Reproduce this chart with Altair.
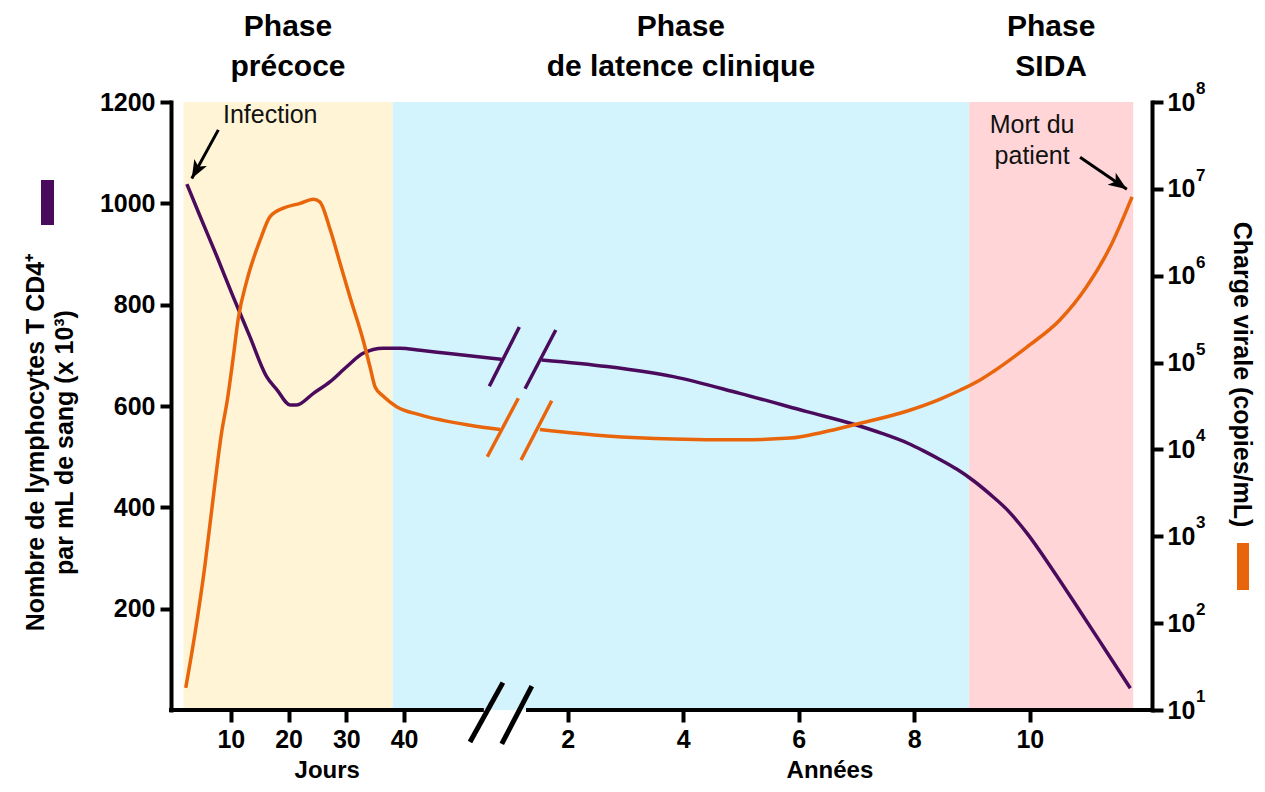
import altair as alt
import pandas as pd

FONT = "Liberation Sans"
PURPLE = "#4b0b5d"
ORANGE = "#e9650c"
YELLOW = "#fff5d6"
BLUE = "#d4f4fd"
PINK = "#ffd5d8"

# unified horizontal position: days as-is, years placed after the axis break
YEAR0 = 48.3
PER_YEAR = 10.0


def pos(seg, t):
    return t if seg == "j" else YEAR0 + PER_YEAR * t


# ---- CD4+ T lymphocytes (x 10^3 / mL) ----
CD4_DAYS = [2.4, 4.7, 7.6, 10.4, 13.3, 16.2, 18.0, 20.3, 21.4, 24.3, 27.2, 30.1, 32.9, 36.4, 39.3, 42.8, 47.4, 56.9]
CD4_EARLY = [1038, 974, 895, 816, 737, 658, 632, 602, 602, 625, 648, 678, 704, 714, 714, 710, 704, 692]
CD4_YEARS = [1.55, 2.68, 3.83, 4.98, 6.14, 7.01, 7.44, 7.88, 8.17, 8.45, 8.74, 9.02, 9.31, 9.61, 9.95,
             10.40, 10.87, 11.30, 11.74]
CD4_LATE = [691, 678, 658, 625, 589, 562, 546, 527, 511, 494, 475, 453, 426, 395, 349,
            276, 195, 120, 43]

# ---- viral load (copies/mL) ----
VL_DAYS = [2.2, 3.8, 5.5, 6.9, 8.4, 9.4, 10.4, 11.3, 12.8, 15.1, 16.8, 19.1, 22.0, 24.3, 25.4,
           27.2, 28.9, 30.6, 32.9, 34.1, 35.0, 36.4, 38.7, 42.8, 51.4, 56.6]
VL_EARLY = [18, 76, 450, 2600, 15500, 37000, 112000, 324000, 890000, 2.6e6, 4.8e6, 6.0e6, 6.8e6, 7.6e6, 7.1e6,
            3.4e6, 1.4e6, 5.75e5, 1.82e5, 8.9e4, 5.2e4, 4.1e4, 3.1e4, 2.5e4, 1.9e4, 1.7e4]
VL_YEARS = [1.52, 2.68, 3.83, 4.98, 5.85, 6.42, 7.01, 7.88, 8.45, 8.79, 9.14, 9.37, 9.95, 10.52, 10.98, 11.39, 11.77]
VL_LATE = [17000, 14300, 13200, 12900, 13500, 15800, 19600, 27700, 38000, 48000, 63000, 79000,
           151000, 309000, 741000, 2.14e6, 8.1e6]

# ---- phases ----
PHASE_LABELS = ["Phase\nprécoce", "Phase\nde latence clinique", "Phase\nSIDA"]
PHASE_START = [("j", 1.8), ("j", 38.0), ("a", 8.95)]
PHASE_END = [("j", 38.0), ("a", 8.95), ("a", 11.79)]
PHASE_COLORS = [YELLOW, BLUE, PINK]

# ---- axis ticks ----
DAY_TICKS = [10, 20, 30, 40]
YEAR_TICKS = [2, 4, 6, 8, 10]
CD4_TICKS = [200, 400, 600, 800, 1000, 1200]
VL_EXPONENTS = [1, 2, 3, 4, 5, 6, 7, 8]

# ---- axis-break marks (unified position, value) ----
AXIS_SEGMENTS = [(-0.7, 53.8), (61.1, 169.8)]
AXIS_SLASHES = [((51.4, -63), (57.1, 54)), ((56.9, -67), (62.1, 47))]
CD4_SLASHES = [((54.75, 639), (59.94, 756)), ((60.93, 634), (66.25, 750))]
VL_SLASHES = [((54.4, 8240), (59.77, 38800)), ((60.24, 7550), (65.55, 36400))]

# ---- annotations ----
INFECTION_TEXT = ("j", 8.65, 1158)
INFECTION_ARROW = (("j", 7.84, 1145), ("j", 3.24, 1049), 208.9)
DEATH_TEXT = ("a", 10.04, 1138)
DEATH_ARROW = (("a", 10.87, 1091), ("a", 11.68, 1028), 124.2)
X_TITLES = [("Jours", "j", 26.7), ("Années", "a", 6.54)]

# ---------------- data frames ----------------
cd4 = pd.DataFrame({
    "u": [pos("j", d) for d in CD4_DAYS] + [pos("a", y) for y in CD4_YEARS],
    "v": CD4_EARLY + CD4_LATE,
    "part": ["early"] * len(CD4_DAYS) + ["late"] * len(CD4_YEARS),
})
vl = pd.DataFrame({
    "u": [pos("j", d) for d in VL_DAYS] + [pos("a", y) for y in VL_YEARS],
    "c": VL_EARLY + VL_LATE,
    "part": ["early"] * len(VL_DAYS) + ["late"] * len(VL_YEARS),
})
phases = pd.DataFrame({
    "u": [pos(*s) for s in PHASE_START],
    "u2": [pos(*e) for e in PHASE_END],
    "col": PHASE_COLORS,
    "label": PHASE_LABELS,
})
phase_titles = pd.DataFrame({
    "u": [(pos(*s) + pos(*e)) / 2 for s, e in zip(PHASE_START, PHASE_END)],
    "label": PHASE_LABELS,
})
axis_seg = pd.DataFrame({"u": [a for a, b in AXIS_SEGMENTS], "u2": [b for a, b in AXIS_SEGMENTS], "v": [0, 0]})
axis_sl = pd.DataFrame({"u": [p[0][0] for p in AXIS_SLASHES], "v": [p[0][1] for p in AXIS_SLASHES],
                        "u2": [p[1][0] for p in AXIS_SLASHES], "v2": [p[1][1] for p in AXIS_SLASHES]})
cd4_sl = pd.DataFrame({"u": [p[0][0] for p in CD4_SLASHES], "v": [p[0][1] for p in CD4_SLASHES],
                       "u2": [p[1][0] for p in CD4_SLASHES], "v2": [p[1][1] for p in CD4_SLASHES]})
vl_sl = pd.DataFrame({"u": [p[0][0] for p in VL_SLASHES], "c": [p[0][1] for p in VL_SLASHES],
                      "u2": [p[1][0] for p in VL_SLASHES], "c2": [p[1][1] for p in VL_SLASHES]})
arrows = pd.DataFrame({
    "u": [pos(a[0][0], a[0][1]) for a in (INFECTION_ARROW, DEATH_ARROW)],
    "v": [a[0][2] for a in (INFECTION_ARROW, DEATH_ARROW)],
    "u2": [pos(a[1][0], a[1][1]) for a in (INFECTION_ARROW, DEATH_ARROW)],
    "v2": [a[1][2] for a in (INFECTION_ARROW, DEATH_ARROW)],
})
heads = pd.DataFrame({
    "u": [pos(a[1][0], a[1][1]) for a in (INFECTION_ARROW, DEATH_ARROW)],
    "v": [a[1][2] for a in (INFECTION_ARROW, DEATH_ARROW)],
    "ang": [a[2] for a in (INFECTION_ARROW, DEATH_ARROW)],
})
infection = pd.DataFrame({"u": [pos(INFECTION_TEXT[0], INFECTION_TEXT[1])], "v": [INFECTION_TEXT[2]], "t": ["Infection"]})
death = pd.DataFrame({"u": [pos(DEATH_TEXT[0], DEATH_TEXT[1])], "v": [DEATH_TEXT[2]], "t": ["Mort du\npatient"]})
xtitles = pd.DataFrame({"u": [pos(s, t) for _, s, t in X_TITLES], "t": [n for n, _, _ in X_TITLES]})
expo = pd.DataFrame({"c": [10 ** e for e in VL_EXPONENTS], "t": [str(e) for e in VL_EXPONENTS]})
one = pd.DataFrame({"k": [0]})

# ---------------- scales & axes ----------------
xs = alt.Scale(domain=[-0.35, 169.45], nice=False, zero=False)
x_tick_pos = DAY_TICKS + [pos("a", y) for y in YEAR_TICKS]
xax = alt.Axis(
    values=x_tick_pos,
    labelExpr=f"datum.value <= 40 ? '' + datum.value : '' + round((datum.value - {YEAR0}) / {PER_YEAR})",
    domain=False, ticks=True, tickSize=12, tickWidth=4, tickColor="black",
    labelFont=FONT, labelFontSize=25, labelFontWeight="bold", labelColor="black",
    labelPadding=5, labelFlush=False, labelOverlap=False, grid=False, title=None,
)
yls = alt.Scale(domain=[0, 1200], nice=False, zero=False)
ylax = alt.Axis(
    orient="left", values=CD4_TICKS, format="d", domain=True, domainWidth=4, domainColor="black",
    domainCap="square", ticks=True, tickSize=11, tickWidth=4, tickColor="black",
    labelFont=FONT, labelFontSize=25, labelFontWeight="bold", labelColor="black",
    labelPadding=5, labelFlush=False, grid=False,
    title=["Nombre de lymphocytes T CD4⁺", "par mL de sang (x 10³)"],
    titleAngle=270, titleX=-136, titleY=340, titleAlign="center", titleBaseline="middle",
    titleLineHeight=29, titleFont=FONT, titleFontSize=25, titleFontWeight="bold", titleColor="black",
)
yrs = alt.Scale(type="log", domain=[10, 1e8], nice=False)
yrax = alt.Axis(
    orient="right", values=[10 ** e for e in VL_EXPONENTS], labelExpr="'10'",
    domain=True, domainWidth=4, domainColor="black", domainCap="square",
    ticks=True, tickSize=11, tickWidth=4, tickColor="black",
    labelFont=FONT, labelFontSize=25, labelFontWeight="bold", labelColor="black",
    labelPadding=4, labelFlush=False, labelOverlap=False, grid=False,
    title="Charge virale (copies/mL)",
    titleAngle=90, titleX=89, titleY=272, titleAlign="center", titleBaseline="middle",
    titleFont=FONT, titleFontSize=25, titleFontWeight="bold", titleColor="black",
)


def X():
    return alt.X("u:Q", scale=xs, axis=xax)


def YL(f="v"):
    return alt.Y(f"{f}:Q", scale=yls, axis=ylax)


def YR(f="c"):
    return alt.Y(f"{f}:Q", scale=yrs, axis=yrax)


# ---------------- left (CD4) group ----------------
bg = alt.Chart(phases).mark_rect().encode(
    x=X(), x2="u2:Q", color=alt.Color("col:N", scale=None)
)
cd4_line = alt.Chart(cd4).mark_line(color=PURPLE, strokeWidth=3.5, interpolate="monotone").encode(
    x=X(), y=YL(), detail="part:N"
)
cd4_break = alt.Chart(cd4_sl).mark_rule(color=PURPLE, strokeWidth=3.5).encode(
    x=X(), y=YL(), x2="u2:Q", y2="v2:Q"
)
axis_line = alt.Chart(axis_seg).mark_rule(color="black", strokeWidth=4).encode(
    x=X(), x2="u2:Q", y=YL()
)
axis_break = alt.Chart(axis_sl).mark_rule(color="black", strokeWidth=5).encode(
    x=X(), y=YL(), x2="u2:Q", y2="v2:Q"
)
arrow_shaft = alt.Chart(arrows).mark_rule(color="black", strokeWidth=3).encode(
    x=X(), y=YL(), x2="u2:Q", y2="v2:Q"
)
arrow_head = alt.Chart(heads).mark_point(
    shape="M0,0L-0.45,1.15L0,0.85L0.45,1.15Z", filled=True, size=1024, color="black", opacity=1, strokeWidth=0
).encode(x=X(), y=YL(), angle=alt.Angle("ang:Q", scale=None))
infection_txt = alt.Chart(infection).mark_text(
    font=FONT, fontSize=25, color="#111", align="left", baseline="alphabetic"
).encode(x=X(), y=YL(), text="t:N")
death_txt = alt.Chart(death).mark_text(
    font=FONT, fontSize=25, color="#111", align="center", baseline="alphabetic", lineBreak="\n", lineHeight=31
).encode(x=X(), y=YL(), text="t:N")
phase_txt = alt.Chart(phase_titles).mark_text(
    font=FONT, fontSize=30, fontWeight="bold", color="black", align="center", baseline="alphabetic",
    lineBreak="\n", lineHeight=40
).encode(x=X(), y=alt.value(-66), text="label:N")
xtitle_txt = alt.Chart(xtitles).mark_text(
    font=FONT, fontSize=24, fontWeight="bold", color="black", align="center", baseline="alphabetic"
).encode(x=X(), y=alt.value(676), text="t:N")
swatch_cd4 = alt.Chart(one).mark_rect(color=PURPLE).encode(
    x=alt.value(-130), x2=alt.value(-117), y=alt.value(78), y2=alt.value(123)
)

left = alt.layer(bg, cd4_line, cd4_break, axis_line, axis_break, arrow_shaft, arrow_head,
                 infection_txt, death_txt, phase_txt, xtitle_txt, swatch_cd4)

# ---------------- right (viral load) group ----------------
vl_line = alt.Chart(vl).mark_line(color=ORANGE, strokeWidth=3.5, interpolate="monotone").encode(
    x=X(), y=YR(), detail="part:N"
)
vl_break = alt.Chart(vl_sl).mark_rule(color=ORANGE, strokeWidth=3.5).encode(
    x=X(), y=YR(), x2="u2:Q", y2="c2:Q"
)
expo_txt = alt.Chart(expo).mark_text(
    font=FONT, fontSize=17, fontWeight="bold", color="black", align="left", baseline="middle", dy=-13
).encode(x=alt.value(1025), y=YR(), text="t:N")
swatch_vl = alt.Chart(one).mark_rect(color=ORANGE).encode(
    x=alt.value(1066), x2=alt.value(1078), y=alt.value(441), y2=alt.value(488)
)

right = alt.layer(vl_line, vl_break, expo_txt, swatch_vl)

chart = alt.layer(left, right).resolve_scale(y="independent").properties(
    width=981, height=608,
    autosize=alt.AutoSizeParams(type="none"),
    padding={"left": 163, "top": 94, "right": 105, "bottom": 74},
).configure_view(stroke=None)

chart.save("out.html", embed_options={"renderer": "svg", "actions": False})
